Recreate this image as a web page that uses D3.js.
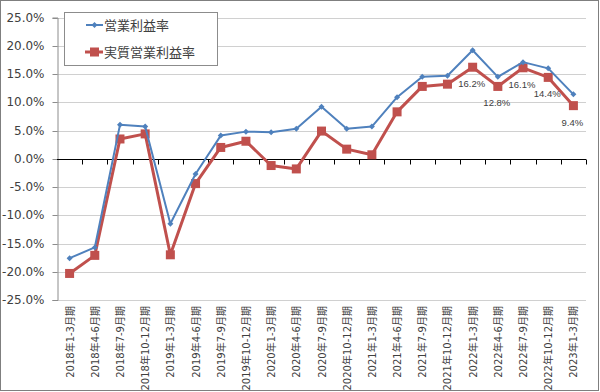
<!DOCTYPE html>
<html><head><meta charset="utf-8">
<script src="https://cdn.jsdelivr.net/npm/d3@7"></script>
<style>body{margin:0;background:#fff}svg{display:block}</style>
</head><body>
<svg id="c" width="600" height="392"></svg>
<script>
const categories = ["2018年1-3月期","2018年4-6月期","2018年7-9月期","2018年10-12月期","2019年1-3月期","2019年4-6月期","2019年7-9月期","2019年10-12月期","2020年1-3月期","2020年4-6月期","2020年7-9月期","2020年10-12月期","2021年1-3月期","2021年4-6月期","2021年7-9月期","2021年10-12月期","2022年1-3月期","2022年4-6月期","2022年7-9月期","2022年10-12月期","2023年1-3月期"];
const operatingMargin = [-17.6,-15.7,6.0,5.7,-11.5,-2.7,4.1,4.8,4.7,5.3,9.2,5.3,5.7,10.9,14.5,14.7,19.2,14.5,17.1,16.0,11.4];
const realMargin = [-20.3,-17.1,3.5,4.4,-17.0,-4.4,2.0,3.1,-1.2,-1.8,4.9,1.7,0.7,8.3,12.8,13.2,16.2,12.8,16.1,14.4,9.4];
const labelIdx = [16,17,18,19,20];
const yTicks = [25,20,15,10,5,0,-5,-10,-15,-20,-25];
const seriesNames = ["営業利益率","実質営業利益率"];

const svg = d3.select("#c");
const blue = "#4F81BD", red = "#C0504D";
svg.append("rect").attr("x",0.5).attr("y",0.5).attr("width",598).attr("height",390)
  .attr("fill","#fff").attr("stroke","#7f7f7f");

const x = d3.scaleBand().domain(categories).range([57,586]);
const y = d3.scaleLinear().domain([-25,25]).range([300,17.5]);
const cx = d => x(d) + x.bandwidth()/2;

// gridlines
svg.append("g").selectAll("line").data(yTicks).join("line")
  .attr("x1",57).attr("x2",586).attr("y1",d=>Math.round(y(d))+0.5).attr("y2",d=>Math.round(y(d))+0.5)
  .attr("stroke","#d0d0d0").attr("stroke-width",1);

// y axis
const ya = svg.append("g").attr("transform","translate(57.5,0)")
  .call(d3.axisLeft(y).tickValues(yTicks).tickSize(5).tickFormat(d=>d.toFixed(1)+"%"));
ya.select(".domain").attr("stroke","#8c8c8c");
ya.selectAll(".tick line").attr("stroke","#8c8c8c").attr("transform","translate(0,0)");
ya.selectAll(".tick").attr("transform",d=>`translate(0,${Math.round(y(d))+0.5})`);
ya.selectAll("text").attr("font-family","DejaVu Sans").attr("font-size",12).attr("fill","#404040").attr("x",-13);

// zero axis with ticks at boundaries
const z = Math.round(y(0))+0.5;
svg.append("line").attr("x1",57).attr("x2",586).attr("y1",z).attr("y2",z).attr("stroke","#000").attr("stroke-width",1);
const bounds = categories.map(c=>x(c)).slice(1).concat([586]);
svg.append("g").selectAll("line").data(bounds).join("line")
  .attr("x1",d=>Math.round(d)+0.5).attr("x2",d=>Math.round(d)+0.5).attr("y1",z).attr("y2",z+5)
  .attr("stroke","#000");

// x labels
svg.append("g").selectAll("text").data(categories).join("text")
  .attr("transform",d=>`translate(${cx(d)+4},306) rotate(-90)`)
  .attr("text-anchor","end").attr("font-family","DejaVu Sans, Noto Sans CJK JP").attr("font-size",10)
  .attr("fill","#404040").text(d=>d);

const line = d3.line().x((d,i)=>cx(categories[i])).y(d=>y(d));

// red series
svg.append("path").datum(realMargin).attr("d",line).attr("fill","none").attr("stroke",red).attr("stroke-width",3).attr("stroke-linejoin","round");
svg.append("g").selectAll("rect").data(realMargin).join("rect")
  .attr("x",(d,i)=>cx(categories[i])-4.5).attr("y",d=>y(d)-4.5).attr("width",9).attr("height",9).attr("fill",red);

// blue series
svg.append("path").datum(operatingMargin).attr("d",line).attr("fill","none").attr("stroke",blue).attr("stroke-width",2).attr("stroke-linejoin","round");
svg.append("g").selectAll("path.m").data(operatingMargin).join("path")
  .attr("d",(d,i)=>{const px=cx(categories[i]),py=y(d);return `M${px},${py-3}L${px+3},${py}L${px},${py+3}L${px-3},${py}Z`;})
  .attr("fill",blue);

// data labels
svg.append("g").selectAll("text").data(labelIdx).join("text")
  .attr("x",i=>cx(categories[i])-1).attr("y",i=>y(realMargin[i])+20)
  .attr("text-anchor","middle").attr("font-family","Liberation Sans").attr("font-size",9.5).attr("fill","#404040")
  .text(i=>realMargin[i].toFixed(1)+"%");

// legend
const lg = svg.append("g");
lg.append("rect").attr("x",64.5).attr("y",12.5).attr("width",153).attr("height",53).attr("fill","#fff").attr("stroke","#8c8c8c");
lg.append("line").attr("x1",86).attr("x2",103).attr("y1",25).attr("y2",25).attr("stroke",blue).attr("stroke-width",2);
lg.append("path").attr("d","M94.5,22L97.5,25L94.5,28L91.5,25Z").attr("fill",blue);
lg.append("line").attr("x1",85).attr("x2",103).attr("y1",52).attr("y2",52).attr("stroke",red).attr("stroke-width",3);
lg.append("rect").attr("x",90).attr("y",47.5).attr("width",9).attr("height",9).attr("fill",red);
lg.selectAll("text").data(seriesNames).join("text")
  .attr("x",104).attr("y",(d,i)=>[30,57][i]).attr("font-family","Noto Sans CJK JP").attr("font-size",13).attr("fill","#404040").text(d=>d);
</script>
</body></html>
